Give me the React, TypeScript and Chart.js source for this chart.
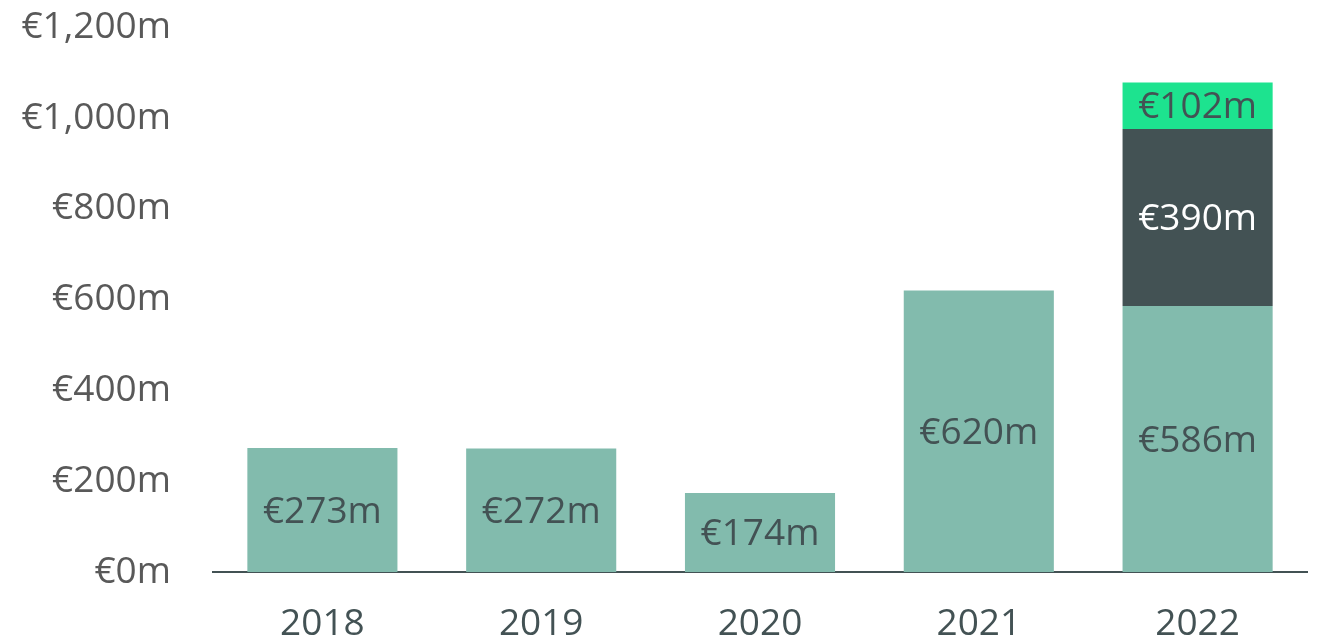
import React, { useEffect, useRef } from "react";
import { Chart, registerables } from "chart.js";

Chart.register(...registerables);

const categories = ["2018", "2019", "2020", "2021", "2022"];
const baseValues = [273, 272, 174, 620, 586];
const midValues = [null, null, null, null, 390];
const topValues = [null, null, null, null, 102];
const yTicks = [0, 200, 400, 600, 800, 1000, 1200];

const FONT = "'Open Sans', sans-serif";
const SIZE = 37;
const SHIFT = 37;

const fmt = (v: number) => "€" + v.toLocaleString("en-US") + "m";

const barLabels = {
  id: "barLabels",
  afterDatasetsDraw(chart: any) {
    const ctx = chart.ctx;
    ctx.save();
    ctx.font = `${SIZE}px ${FONT}`;
    ctx.textAlign = "center";
    ctx.textBaseline = "middle";
    chart.data.datasets.forEach((ds: any, di: number) => {
      const meta = chart.getDatasetMeta(di);
      meta.data.forEach((el: any, i: number) => {
        const v = ds.data[i];
        if (v == null) return;
        const cy = (el.y + el.base) / 2 + 2;
        ctx.fillStyle = ds.labelColor;
        ctx.fillText(fmt(v), el.x, cy);
      });
    });
    ctx.restore();
  },
};

export default function App() {
  const ref = useRef<HTMLCanvasElement>(null);
  useEffect(() => {
    const chart = new Chart(ref.current!, {
      type: "bar",
      data: {
        labels: categories,
        datasets: [
          { data: baseValues, backgroundColor: "#82BBAD", labelColor: "#435254" } as any,
          { data: midValues, backgroundColor: "#435254", labelColor: "#FFFFFF" } as any,
          { data: topValues, backgroundColor: "#1DE38F", labelColor: "#435254" } as any,
        ],
      },
      options: {
        animation: false,
        responsive: false,
        maintainAspectRatio: false,
        layout: { padding: { top: 0, right: 10, left: 0, bottom: 0 } },
        datasets: { bar: { categoryPercentage: 1, barPercentage: 0.686 } },
        plugins: { legend: { display: false }, tooltip: { enabled: false } },
        scales: {
          x: {
            stacked: true,
            grid: { display: false, drawTicks: false },
            border: { display: true, color: "#435254", width: 2 },
            ticks: { color: "#435254", font: { family: FONT, size: SIZE }, padding: 30 },
            afterFit: (s: any) => { s.height = 69; },
          },
          y: {
            stacked: true,
            min: 0,
            max: 1200,
            grid: { display: false, drawTicks: false },
            border: { display: false },
            afterBuildTicks: (s: any) => { s.ticks = yTicks.map((v) => ({ value: v })); },
            ticks: {
              color: "#595959",
              font: { family: FONT, size: SIZE },
              padding: 42,
              callback: (v: any) => fmt(Number(v)),
            },
            afterFit: (s: any) => { s.width = 213; },
          },
        },
      },
      plugins: [barLabels],
    });
    return () => chart.destroy();
  }, []);
  return (
    <div style={{ position: "fixed", left: 0, top: -SHIFT, width: 1317, height: 641 + SHIFT }}>
      <canvas ref={ref} width={1317} height={641 + SHIFT} style={{ display: "block" }} />
    </div>
  );
}
